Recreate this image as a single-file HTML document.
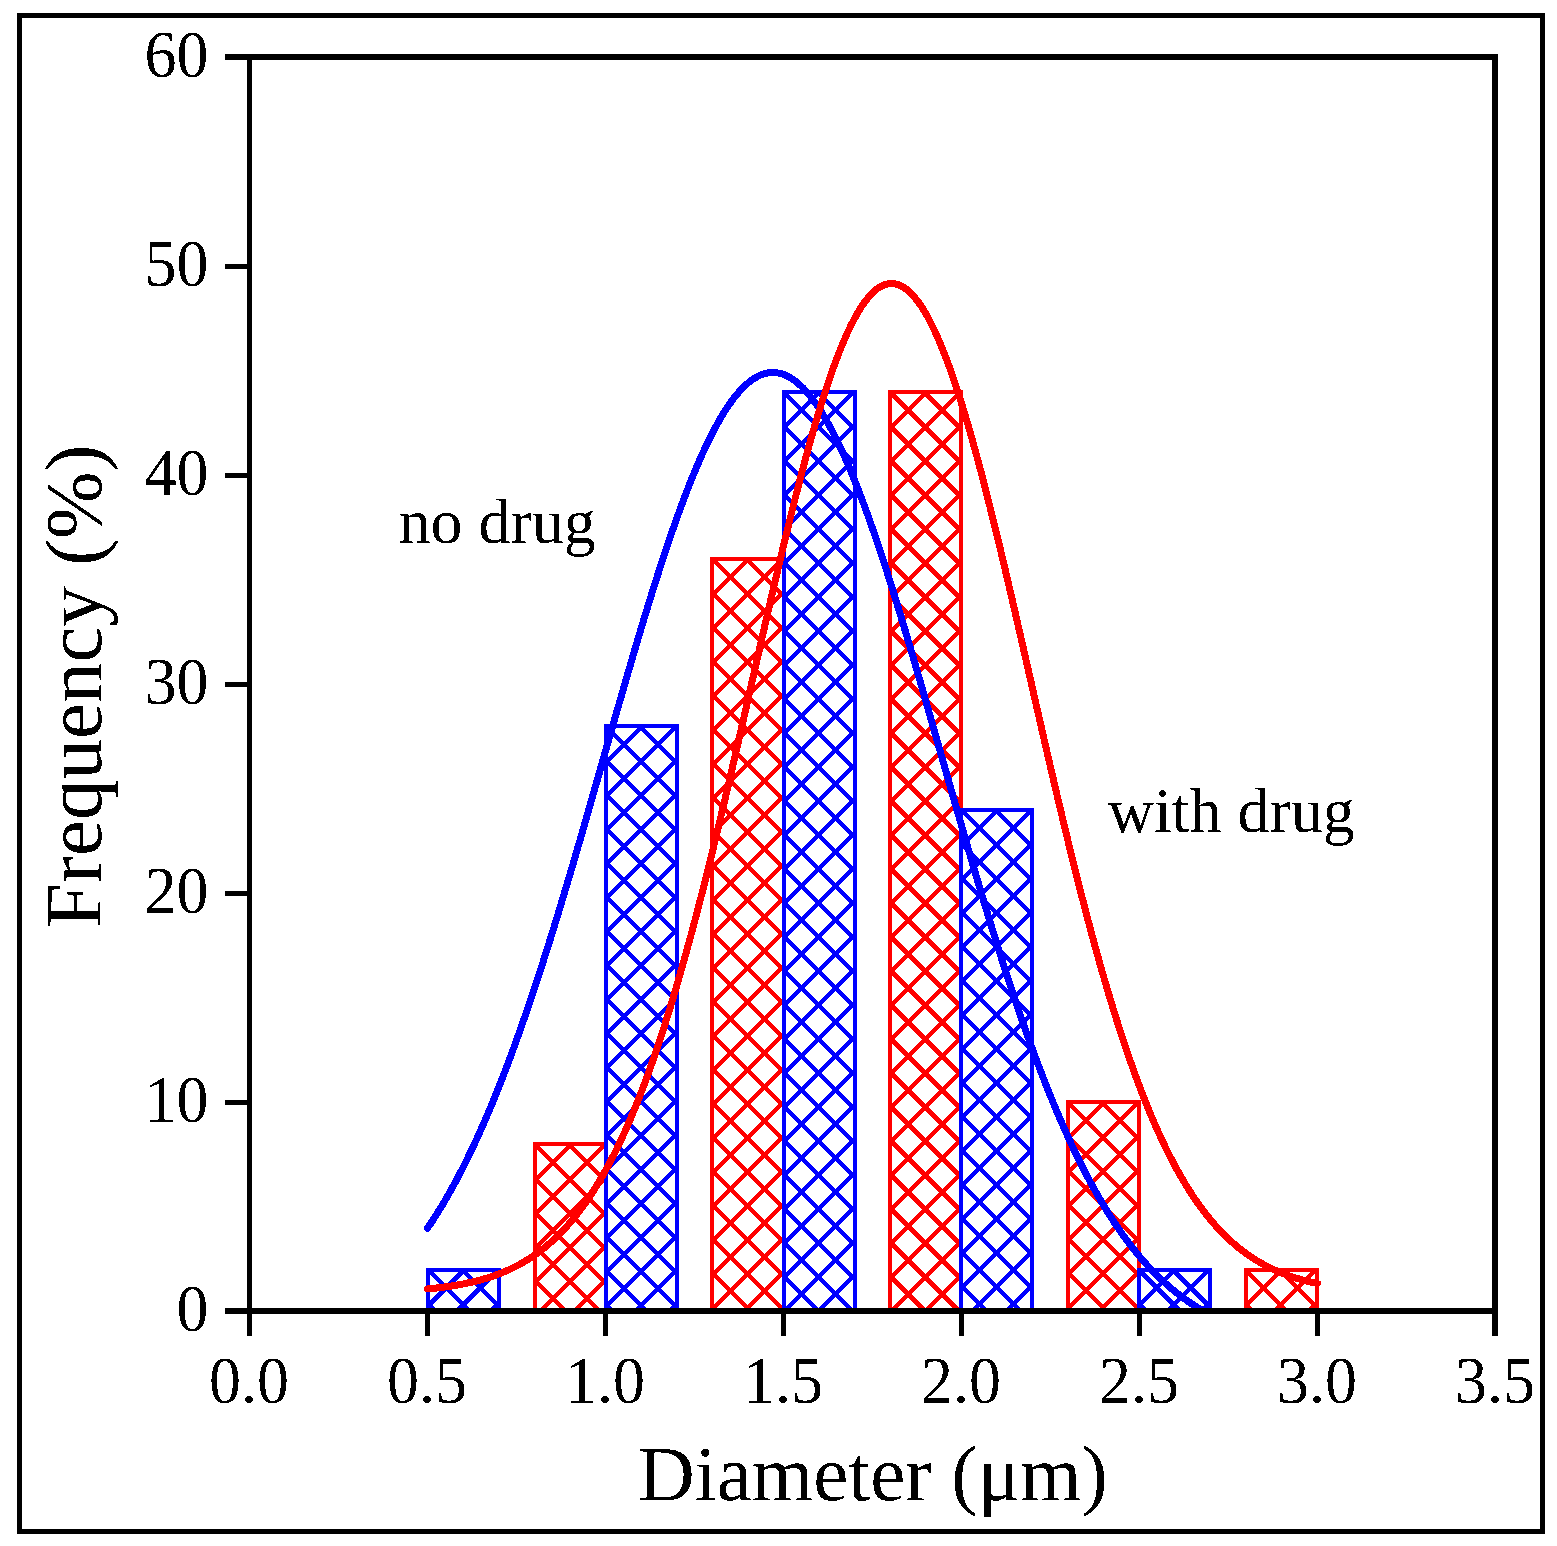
<!DOCTYPE html>
<html><head><meta charset="utf-8"><title>Diameter distribution histogram</title>
<style>html,body{margin:0;padding:0;background:#fff;overflow:hidden;}svg{display:block;}</style></head>
<body>
<svg width="1557" height="1546" viewBox="0 0 1557 1546" shape-rendering="crispEdges">
<defs><filter id="bin" x="0" y="0" width="1557" height="1546" filterUnits="userSpaceOnUse" color-interpolation-filters="sRGB"><feComponentTransfer><feFuncA type="discrete" tableValues="0 1"/></feComponentTransfer></filter><clipPath id="c1"><rect x="533" y="1142" width="75" height="169"/></clipPath><clipPath id="c2"><rect x="710" y="557" width="76" height="754"/></clipPath><clipPath id="c3"><rect x="888" y="390" width="75" height="921"/></clipPath><clipPath id="c4"><rect x="1066" y="1100" width="75" height="211"/></clipPath><clipPath id="c5"><rect x="1244" y="1268" width="75" height="43"/></clipPath><clipPath id="c6"><rect x="426" y="1268" width="75" height="43"/></clipPath><clipPath id="c7"><rect x="604" y="724" width="75" height="587"/></clipPath><clipPath id="c8"><rect x="782" y="390" width="75" height="921"/></clipPath><clipPath id="c9"><rect x="959" y="808" width="75" height="503"/></clipPath><clipPath id="c10"><rect x="1137" y="1268" width="75" height="43"/></clipPath><clipPath id="plot"><rect x="250" y="57" width="1245" height="1254"/></clipPath></defs>
<rect width="1557" height="1546" fill="#fff"/>
<g><rect x="533" y="1142" width="75" height="169" fill="#fff"/><path clip-path="url(#c1)" d="M525.00 1372.69L616.00 1463.69M525.00 1338.69L616.00 1429.69M525.00 1304.69L616.00 1395.69M525.00 1270.69L616.00 1361.69M525.00 1236.69L616.00 1327.69M525.00 1202.69L616.00 1293.69M525.00 1168.69L616.00 1259.69M525.00 1134.69L616.00 1225.69M525.00 1100.69L616.00 1191.69M525.00 1066.69L616.00 1157.69M525.00 1032.69L616.00 1123.69M525.00 998.69L616.00 1089.69M525.00 1088.31L616.00 997.31M525.00 1122.31L616.00 1031.31M525.00 1156.31L616.00 1065.31M525.00 1190.31L616.00 1099.31M525.00 1224.31L616.00 1133.31M525.00 1258.31L616.00 1167.31M525.00 1292.31L616.00 1201.31M525.00 1326.31L616.00 1235.31M525.00 1360.31L616.00 1269.31M525.00 1394.31L616.00 1303.31M525.00 1428.31L616.00 1337.31M525.00 1462.31L616.00 1371.31" stroke="#FF0000" stroke-width="4.4" fill="none"/><rect x="533" y="1142" width="4" height="169" fill="#FF0000"/><rect x="604" y="1142" width="4" height="169" fill="#FF0000"/><rect x="533" y="1142" width="75" height="4" fill="#FF0000"/><rect x="710" y="557" width="76" height="754" fill="#fff"/><path clip-path="url(#c2)" d="M702.00 1364.81L794.00 1456.81M702.00 1330.81L794.00 1422.81M702.00 1296.81L794.00 1388.81M702.00 1262.81L794.00 1354.81M702.00 1228.81L794.00 1320.81M702.00 1194.81L794.00 1286.81M702.00 1160.81L794.00 1252.81M702.00 1126.81L794.00 1218.81M702.00 1092.81L794.00 1184.81M702.00 1058.81L794.00 1150.81M702.00 1024.81L794.00 1116.81M702.00 990.81L794.00 1082.81M702.00 956.81L794.00 1048.81M702.00 922.81L794.00 1014.81M702.00 888.81L794.00 980.81M702.00 854.81L794.00 946.81M702.00 820.81L794.00 912.81M702.00 786.81L794.00 878.81M702.00 752.81L794.00 844.81M702.00 718.81L794.00 810.81M702.00 684.81L794.00 776.81M702.00 650.81L794.00 742.81M702.00 616.81L794.00 708.81M702.00 582.81L794.00 674.81M702.00 548.81L794.00 640.81M702.00 514.81L794.00 606.81M702.00 480.81L794.00 572.81M702.00 446.81L794.00 538.81M702.00 412.81L794.00 504.81M702.00 503.79L794.00 411.79M702.00 537.79L794.00 445.79M702.00 571.79L794.00 479.79M702.00 605.79L794.00 513.79M702.00 639.79L794.00 547.79M702.00 673.79L794.00 581.79M702.00 707.79L794.00 615.79M702.00 741.79L794.00 649.79M702.00 775.79L794.00 683.79M702.00 809.79L794.00 717.79M702.00 843.79L794.00 751.79M702.00 877.79L794.00 785.79M702.00 911.79L794.00 819.79M702.00 945.79L794.00 853.79M702.00 979.79L794.00 887.79M702.00 1013.79L794.00 921.79M702.00 1047.79L794.00 955.79M702.00 1081.79L794.00 989.79M702.00 1115.79L794.00 1023.79M702.00 1149.79L794.00 1057.79M702.00 1183.79L794.00 1091.79M702.00 1217.79L794.00 1125.79M702.00 1251.79L794.00 1159.79M702.00 1285.79L794.00 1193.79M702.00 1319.79L794.00 1227.79M702.00 1353.79L794.00 1261.79M702.00 1387.79L794.00 1295.79M702.00 1421.79L794.00 1329.79M702.00 1455.79L794.00 1363.79" stroke="#FF0000" stroke-width="4.4" fill="none"/><rect x="710" y="557" width="4" height="754" fill="#FF0000"/><rect x="782" y="557" width="4" height="754" fill="#FF0000"/><rect x="710" y="557" width="76" height="4" fill="#FF0000"/><rect x="888" y="390" width="75" height="921" fill="#fff"/><path clip-path="url(#c3)" d="M880.00 1367.92L971.00 1458.92M880.00 1333.92L971.00 1424.92M880.00 1299.92L971.00 1390.92M880.00 1265.92L971.00 1356.92M880.00 1231.92L971.00 1322.92M880.00 1197.92L971.00 1288.92M880.00 1163.92L971.00 1254.92M880.00 1129.92L971.00 1220.92M880.00 1095.92L971.00 1186.92M880.00 1061.92L971.00 1152.92M880.00 1027.92L971.00 1118.92M880.00 993.92L971.00 1084.92M880.00 959.92L971.00 1050.92M880.00 925.92L971.00 1016.92M880.00 891.92L971.00 982.92M880.00 857.92L971.00 948.92M880.00 823.92L971.00 914.92M880.00 789.92L971.00 880.92M880.00 755.92L971.00 846.92M880.00 721.92L971.00 812.92M880.00 687.92L971.00 778.92M880.00 653.92L971.00 744.92M880.00 619.92L971.00 710.92M880.00 585.92L971.00 676.92M880.00 551.92L971.00 642.92M880.00 517.92L971.00 608.92M880.00 483.92L971.00 574.92M880.00 449.92L971.00 540.92M880.00 415.92L971.00 506.92M880.00 381.92L971.00 472.92M880.00 347.92L971.00 438.92M880.00 313.92L971.00 404.92M880.00 279.92L971.00 370.92M880.00 245.92L971.00 336.92M880.00 336.28L971.00 245.28M880.00 370.28L971.00 279.28M880.00 404.28L971.00 313.28M880.00 438.28L971.00 347.28M880.00 472.28L971.00 381.28M880.00 506.28L971.00 415.28M880.00 540.28L971.00 449.28M880.00 574.28L971.00 483.28M880.00 608.28L971.00 517.28M880.00 642.28L971.00 551.28M880.00 676.28L971.00 585.28M880.00 710.28L971.00 619.28M880.00 744.28L971.00 653.28M880.00 778.28L971.00 687.28M880.00 812.28L971.00 721.28M880.00 846.28L971.00 755.28M880.00 880.28L971.00 789.28M880.00 914.28L971.00 823.28M880.00 948.28L971.00 857.28M880.00 982.28L971.00 891.28M880.00 1016.28L971.00 925.28M880.00 1050.28L971.00 959.28M880.00 1084.28L971.00 993.28M880.00 1118.28L971.00 1027.28M880.00 1152.28L971.00 1061.28M880.00 1186.28L971.00 1095.28M880.00 1220.28L971.00 1129.28M880.00 1254.28L971.00 1163.28M880.00 1288.28L971.00 1197.28M880.00 1322.28L971.00 1231.28M880.00 1356.28L971.00 1265.28M880.00 1390.28L971.00 1299.28M880.00 1424.28L971.00 1333.28M880.00 1458.28L971.00 1367.28" stroke="#FF0000" stroke-width="4.4" fill="none"/><rect x="888" y="390" width="4" height="921" fill="#FF0000"/><rect x="959" y="390" width="4" height="921" fill="#FF0000"/><rect x="888" y="390" width="75" height="4" fill="#FF0000"/><rect x="1066" y="1100" width="75" height="211" fill="#fff"/><path clip-path="url(#c4)" d="M1058.00 1364.84L1149.00 1455.84M1058.00 1330.84L1149.00 1421.84M1058.00 1296.84L1149.00 1387.84M1058.00 1262.84L1149.00 1353.84M1058.00 1228.84L1149.00 1319.84M1058.00 1194.84L1149.00 1285.84M1058.00 1160.84L1149.00 1251.84M1058.00 1126.84L1149.00 1217.84M1058.00 1092.84L1149.00 1183.84M1058.00 1058.84L1149.00 1149.84M1058.00 1024.84L1149.00 1115.84M1058.00 990.84L1149.00 1081.84M1058.00 956.84L1149.00 1047.84M1058.00 1046.56L1149.00 955.56M1058.00 1080.56L1149.00 989.56M1058.00 1114.56L1149.00 1023.56M1058.00 1148.56L1149.00 1057.56M1058.00 1182.56L1149.00 1091.56M1058.00 1216.56L1149.00 1125.56M1058.00 1250.56L1149.00 1159.56M1058.00 1284.56L1149.00 1193.56M1058.00 1318.56L1149.00 1227.56M1058.00 1352.56L1149.00 1261.56M1058.00 1386.56L1149.00 1295.56M1058.00 1420.56L1149.00 1329.56M1058.00 1454.56L1149.00 1363.56" stroke="#FF0000" stroke-width="4.4" fill="none"/><rect x="1066" y="1100" width="4" height="211" fill="#FF0000"/><rect x="1137" y="1100" width="4" height="211" fill="#FF0000"/><rect x="1066" y="1100" width="75" height="4" fill="#FF0000"/><rect x="1244" y="1268" width="75" height="43" fill="#fff"/><path clip-path="url(#c5)" d="M1236.00 1362.35L1327.00 1453.35M1236.00 1328.35L1327.00 1419.35M1236.00 1294.35L1327.00 1385.35M1236.00 1260.35L1327.00 1351.35M1236.00 1226.35L1327.00 1317.35M1236.00 1192.35L1327.00 1283.35M1236.00 1158.35L1327.00 1249.35M1236.00 1124.35L1327.00 1215.35M1236.00 1213.45L1327.00 1122.45M1236.00 1247.45L1327.00 1156.45M1236.00 1281.45L1327.00 1190.45M1236.00 1315.45L1327.00 1224.45M1236.00 1349.45L1327.00 1258.45M1236.00 1383.45L1327.00 1292.45M1236.00 1417.45L1327.00 1326.45M1236.00 1451.45L1327.00 1360.45" stroke="#FF0000" stroke-width="4.4" fill="none"/><rect x="1244" y="1268" width="4" height="43" fill="#FF0000"/><rect x="1315" y="1268" width="4" height="43" fill="#FF0000"/><rect x="1244" y="1268" width="75" height="4" fill="#FF0000"/><rect x="426" y="1268" width="75" height="43" fill="#fff"/><path clip-path="url(#c6)" d="M418.00 1361.71L509.00 1452.71M418.00 1327.71L509.00 1418.71M418.00 1293.71L509.00 1384.71M418.00 1259.71L509.00 1350.71M418.00 1225.71L509.00 1316.71M418.00 1191.71L509.00 1282.71M418.00 1157.71L509.00 1248.71M418.00 1123.71L509.00 1214.71M418.00 1214.10L509.00 1123.10M418.00 1248.10L509.00 1157.10M418.00 1282.10L509.00 1191.10M418.00 1316.10L509.00 1225.10M418.00 1350.10L509.00 1259.10M418.00 1384.10L509.00 1293.10M418.00 1418.10L509.00 1327.10M418.00 1452.10L509.00 1361.10" stroke="#0000FF" stroke-width="4.4" fill="none"/><rect x="426" y="1268" width="4" height="43" fill="#0000FF"/><rect x="497" y="1268" width="4" height="43" fill="#0000FF"/><rect x="426" y="1268" width="75" height="4" fill="#0000FF"/><rect x="604" y="724" width="75" height="587" fill="#fff"/><path clip-path="url(#c7)" d="M596.00 1362.62L687.00 1453.62M596.00 1328.62L687.00 1419.62M596.00 1294.62L687.00 1385.62M596.00 1260.62L687.00 1351.62M596.00 1226.62L687.00 1317.62M596.00 1192.62L687.00 1283.62M596.00 1158.62L687.00 1249.62M596.00 1124.62L687.00 1215.62M596.00 1090.62L687.00 1181.62M596.00 1056.62L687.00 1147.62M596.00 1022.62L687.00 1113.62M596.00 988.62L687.00 1079.62M596.00 954.62L687.00 1045.62M596.00 920.62L687.00 1011.62M596.00 886.62L687.00 977.62M596.00 852.62L687.00 943.62M596.00 818.62L687.00 909.62M596.00 784.62L687.00 875.62M596.00 750.62L687.00 841.62M596.00 716.62L687.00 807.62M596.00 682.62L687.00 773.62M596.00 648.62L687.00 739.62M596.00 614.62L687.00 705.62M596.00 580.62L687.00 671.62M596.00 670.38L687.00 579.38M596.00 704.38L687.00 613.38M596.00 738.38L687.00 647.38M596.00 772.38L687.00 681.38M596.00 806.38L687.00 715.38M596.00 840.38L687.00 749.38M596.00 874.38L687.00 783.38M596.00 908.38L687.00 817.38M596.00 942.38L687.00 851.38M596.00 976.38L687.00 885.38M596.00 1010.38L687.00 919.38M596.00 1044.38L687.00 953.38M596.00 1078.38L687.00 987.38M596.00 1112.38L687.00 1021.38M596.00 1146.38L687.00 1055.38M596.00 1180.38L687.00 1089.38M596.00 1214.38L687.00 1123.38M596.00 1248.38L687.00 1157.38M596.00 1282.38L687.00 1191.38M596.00 1316.38L687.00 1225.38M596.00 1350.38L687.00 1259.38M596.00 1384.38L687.00 1293.38M596.00 1418.38L687.00 1327.38M596.00 1452.38L687.00 1361.38" stroke="#0000FF" stroke-width="4.4" fill="none"/><rect x="604" y="724" width="4" height="587" fill="#0000FF"/><rect x="675" y="724" width="4" height="587" fill="#0000FF"/><rect x="604" y="724" width="75" height="4" fill="#0000FF"/><rect x="782" y="390" width="75" height="921" fill="#fff"/><path clip-path="url(#c8)" d="M774.00 1368.54L865.00 1459.54M774.00 1334.54L865.00 1425.54M774.00 1300.54L865.00 1391.54M774.00 1266.54L865.00 1357.54M774.00 1232.54L865.00 1323.54M774.00 1198.54L865.00 1289.54M774.00 1164.54L865.00 1255.54M774.00 1130.54L865.00 1221.54M774.00 1096.54L865.00 1187.54M774.00 1062.54L865.00 1153.54M774.00 1028.54L865.00 1119.54M774.00 994.54L865.00 1085.54M774.00 960.54L865.00 1051.54M774.00 926.54L865.00 1017.54M774.00 892.54L865.00 983.54M774.00 858.54L865.00 949.54M774.00 824.54L865.00 915.54M774.00 790.54L865.00 881.54M774.00 756.54L865.00 847.54M774.00 722.54L865.00 813.54M774.00 688.54L865.00 779.54M774.00 654.54L865.00 745.54M774.00 620.54L865.00 711.54M774.00 586.54L865.00 677.54M774.00 552.54L865.00 643.54M774.00 518.54L865.00 609.54M774.00 484.54L865.00 575.54M774.00 450.54L865.00 541.54M774.00 416.54L865.00 507.54M774.00 382.54L865.00 473.54M774.00 348.54L865.00 439.54M774.00 314.54L865.00 405.54M774.00 280.54L865.00 371.54M774.00 246.54L865.00 337.54M774.00 335.67L865.00 244.67M774.00 369.67L865.00 278.67M774.00 403.67L865.00 312.67M774.00 437.67L865.00 346.67M774.00 471.67L865.00 380.67M774.00 505.67L865.00 414.67M774.00 539.67L865.00 448.67M774.00 573.67L865.00 482.67M774.00 607.67L865.00 516.67M774.00 641.67L865.00 550.67M774.00 675.67L865.00 584.67M774.00 709.67L865.00 618.67M774.00 743.67L865.00 652.67M774.00 777.67L865.00 686.67M774.00 811.67L865.00 720.67M774.00 845.67L865.00 754.67M774.00 879.67L865.00 788.67M774.00 913.67L865.00 822.67M774.00 947.67L865.00 856.67M774.00 981.67L865.00 890.67M774.00 1015.67L865.00 924.67M774.00 1049.67L865.00 958.67M774.00 1083.67L865.00 992.67M774.00 1117.67L865.00 1026.67M774.00 1151.67L865.00 1060.67M774.00 1185.67L865.00 1094.67M774.00 1219.67L865.00 1128.67M774.00 1253.67L865.00 1162.67M774.00 1287.66L865.00 1196.66M774.00 1321.66L865.00 1230.66M774.00 1355.66L865.00 1264.66M774.00 1389.66L865.00 1298.66M774.00 1423.66L865.00 1332.66M774.00 1457.66L865.00 1366.66" stroke="#0000FF" stroke-width="4.4" fill="none"/><rect x="782" y="390" width="4" height="921" fill="#0000FF"/><rect x="853" y="390" width="4" height="921" fill="#0000FF"/><rect x="782" y="390" width="75" height="4" fill="#0000FF"/><rect x="959" y="808" width="75" height="503" fill="#fff"/><path clip-path="url(#c9)" d="M951.00 1377.85L1042.00 1468.85M951.00 1343.85L1042.00 1434.85M951.00 1309.85L1042.00 1400.85M951.00 1275.85L1042.00 1366.85M951.00 1241.85L1042.00 1332.85M951.00 1207.85L1042.00 1298.85M951.00 1173.85L1042.00 1264.85M951.00 1139.85L1042.00 1230.85M951.00 1105.85L1042.00 1196.85M951.00 1071.85L1042.00 1162.85M951.00 1037.85L1042.00 1128.85M951.00 1003.85L1042.00 1094.85M951.00 969.85L1042.00 1060.85M951.00 935.85L1042.00 1026.85M951.00 901.85L1042.00 992.85M951.00 867.85L1042.00 958.85M951.00 833.85L1042.00 924.85M951.00 799.85L1042.00 890.85M951.00 765.85L1042.00 856.85M951.00 731.85L1042.00 822.85M951.00 697.85L1042.00 788.85M951.00 663.85L1042.00 754.85M951.00 754.35L1042.00 663.35M951.00 788.35L1042.00 697.35M951.00 822.35L1042.00 731.35M951.00 856.35L1042.00 765.35M951.00 890.35L1042.00 799.35M951.00 924.35L1042.00 833.35M951.00 958.35L1042.00 867.35M951.00 992.35L1042.00 901.35M951.00 1026.35L1042.00 935.35M951.00 1060.35L1042.00 969.35M951.00 1094.35L1042.00 1003.35M951.00 1128.35L1042.00 1037.35M951.00 1162.35L1042.00 1071.35M951.00 1196.35L1042.00 1105.35M951.00 1230.35L1042.00 1139.35M951.00 1264.35L1042.00 1173.35M951.00 1298.35L1042.00 1207.35M951.00 1332.35L1042.00 1241.35M951.00 1366.35L1042.00 1275.35M951.00 1400.35L1042.00 1309.35M951.00 1434.35L1042.00 1343.35M951.00 1468.35L1042.00 1377.35" stroke="#0000FF" stroke-width="4.4" fill="none"/><rect x="959" y="808" width="4" height="503" fill="#0000FF"/><rect x="1030" y="808" width="4" height="503" fill="#0000FF"/><rect x="959" y="808" width="75" height="4" fill="#0000FF"/><rect x="1137" y="1268" width="75" height="43" fill="#fff"/><path clip-path="url(#c10)" d="M1129.00 1361.97L1220.00 1452.97M1129.00 1327.97L1220.00 1418.97M1129.00 1293.97L1220.00 1384.97M1129.00 1259.97L1220.00 1350.97M1129.00 1225.97L1220.00 1316.97M1129.00 1191.97L1220.00 1282.97M1129.00 1157.97L1220.00 1248.97M1129.00 1123.97L1220.00 1214.97M1129.00 1213.84L1220.00 1122.84M1129.00 1247.84L1220.00 1156.84M1129.00 1281.84L1220.00 1190.84M1129.00 1315.84L1220.00 1224.84M1129.00 1349.84L1220.00 1258.84M1129.00 1383.84L1220.00 1292.84M1129.00 1417.84L1220.00 1326.84M1129.00 1451.84L1220.00 1360.84" stroke="#0000FF" stroke-width="4.4" fill="none"/><rect x="1137" y="1268" width="4" height="43" fill="#0000FF"/><rect x="1208" y="1268" width="4" height="43" fill="#0000FF"/><rect x="1137" y="1268" width="75" height="4" fill="#0000FF"/></g>
<g clip-path="url(#plot)"><polyline points="427.50,1228.20 430.14,1224.29 432.79,1220.28 435.43,1216.18 438.07,1211.98 440.72,1207.68 443.36,1203.29 446.00,1198.79 448.65,1194.19 451.29,1189.50 453.93,1184.69 456.58,1179.79 459.22,1174.78 461.86,1169.67 464.50,1164.45 467.15,1159.13 469.79,1153.70 472.43,1148.16 475.08,1142.52 477.72,1136.77 480.36,1130.92 483.01,1124.96 485.65,1118.89 488.29,1112.71 490.94,1106.43 493.58,1100.05 496.22,1093.55 498.87,1086.96 501.51,1080.25 504.15,1073.45 506.80,1066.54 509.44,1059.53 512.08,1052.41 514.73,1045.20 517.37,1037.88 520.01,1030.47 522.66,1022.96 525.30,1015.36 527.94,1007.66 530.59,999.87 533.23,991.99 535.87,984.02 538.51,975.97 541.16,967.83 543.80,959.61 546.44,951.31 549.09,942.93 551.73,934.47 554.37,925.94 557.02,917.35 559.66,908.68 562.30,899.96 564.95,891.17 567.59,882.32 570.23,873.42 572.88,864.47 575.52,855.47 578.16,846.43 580.81,837.34 583.45,828.22 586.09,819.07 588.74,809.89 591.38,800.68 594.02,791.45 596.67,782.21 599.31,772.95 601.95,763.69 604.60,754.42 607.24,745.15 609.88,735.89 612.52,726.64 615.17,717.41 617.81,708.19 620.45,699.00 623.10,689.84 625.74,680.71 628.38,671.62 631.03,662.58 633.67,653.59 636.31,644.65 638.96,635.77 641.60,626.96 644.24,618.21 646.89,609.54 649.53,600.96 652.17,592.45 654.82,584.04 657.46,575.73 660.10,567.51 662.75,559.40 665.39,551.40 668.03,543.52 670.68,535.76 673.32,528.13 675.96,520.63 678.61,513.26 681.25,506.03 683.89,498.95 686.53,492.02 689.18,485.25 691.82,478.63 694.46,472.18 697.11,465.90 699.75,459.79 702.39,453.86 705.04,448.11 707.68,442.54 710.32,437.16 712.97,431.98 715.61,426.99 718.25,422.20 720.90,417.62 723.54,413.24 726.18,409.07 728.83,405.11 731.47,401.37 734.11,397.85 736.76,394.54 739.40,391.46 742.04,388.61 744.69,385.98 747.33,383.59 749.97,381.42 752.61,379.49 755.26,377.79 757.90,376.32 760.54,375.09 763.19,374.10 765.83,373.35 768.47,372.83 771.12,372.56 773.76,372.52 776.40,372.72 779.05,373.16 781.69,373.84 784.33,374.76 786.98,375.92 789.62,377.31 792.26,378.94 794.91,380.80 797.55,382.90 800.19,385.22 802.84,387.78 805.48,390.56 808.12,393.57 810.77,396.81 813.41,400.26 816.05,403.94 818.70,407.83 821.34,411.93 823.98,416.25 826.62,420.77 829.27,425.50 831.91,430.42 834.55,435.55 837.20,440.87 839.84,446.38 842.48,452.07 845.13,457.95 847.77,464.01 850.41,470.24 853.06,476.63 855.70,483.20 858.34,489.93 860.99,496.81 863.63,503.84 866.27,511.02 868.92,518.35 871.56,525.81 874.20,533.40 876.85,541.13 879.49,548.97 882.13,556.93 884.78,565.01 887.42,573.19 890.06,581.48 892.71,589.86 895.35,598.33 897.99,606.90 900.63,615.54 903.28,624.26 905.92,633.06 908.56,641.91 911.21,650.84 913.85,659.81 916.49,668.84 919.14,677.91 921.78,687.03 924.42,696.18 927.07,705.36 929.71,714.57 932.35,723.80 935.00,733.05 937.64,742.31 940.28,751.57 942.93,760.84 945.57,770.11 948.21,779.36 950.86,788.61 953.50,797.85 956.14,807.06 958.79,816.25 961.43,825.41 964.07,834.54 966.71,843.64 969.36,852.70 972.00,861.71 974.64,870.68 977.29,879.59 979.93,888.46 982.57,897.26 985.22,906.01 987.86,914.69 990.50,923.31 993.15,931.86 995.79,940.34 998.43,948.74 1001.08,957.07 1003.72,965.31 1006.36,973.48 1009.01,981.56 1011.65,989.55 1014.29,997.46 1016.94,1005.28 1019.58,1013.00 1022.22,1020.64 1024.87,1028.18 1027.51,1035.62 1030.15,1042.96 1032.80,1050.21 1035.44,1057.35 1038.08,1064.39 1040.72,1071.34 1043.37,1078.17 1046.01,1084.91 1048.65,1091.54 1051.30,1098.06 1053.94,1104.48 1056.58,1110.80 1059.23,1117.00 1061.87,1123.10 1064.51,1129.10 1067.16,1134.99 1069.80,1140.77 1072.44,1146.44 1075.09,1152.01 1077.73,1157.47 1080.37,1162.83 1083.02,1168.08 1085.66,1173.22 1088.30,1178.26 1090.95,1183.20 1093.59,1188.03 1096.23,1192.76 1098.88,1197.39 1101.52,1201.92 1104.16,1206.34 1106.81,1210.67 1109.45,1214.90 1112.09,1219.03 1114.73,1223.07 1117.38,1227.01 1120.02,1230.85 1122.66,1234.60 1125.31,1238.26 1127.95,1241.83 1130.59,1245.31 1133.24,1248.70 1135.88,1252.01 1138.52,1255.22 1141.17,1258.36 1143.81,1261.40 1146.45,1264.37 1149.10,1267.26 1151.74,1270.07 1154.38,1272.80 1157.03,1275.45 1159.67,1278.03 1162.31,1280.53 1164.96,1282.97 1167.60,1285.33 1170.24,1287.62 1172.89,1289.84 1175.53,1292.00 1178.17,1294.09 1180.82,1296.12 1183.46,1298.08 1186.10,1299.99 1188.74,1301.83 1191.39,1303.62 1194.03,1305.35 1196.67,1307.02 1199.32,1308.64 1201.96,1310.20 1204.60,1311.72 1207.25,1313.18 1209.89,1314.60 1212.53,1315.96 1215.18,1317.28 1217.82,1318.56" fill="none" stroke="#0000FF" stroke-width="7.0" stroke-linecap="round" stroke-linejoin="round"/></g><polyline points="427.50,1288.96 430.48,1288.67 433.45,1288.37 436.43,1288.04 439.41,1287.69 442.38,1287.32 445.36,1286.92 448.34,1286.50 451.31,1286.06 454.29,1285.58 457.27,1285.08 460.24,1284.54 463.22,1283.98 466.20,1283.37 469.17,1282.73 472.15,1282.06 475.13,1281.34 478.10,1280.58 481.08,1279.78 484.06,1278.93 487.03,1278.04 490.01,1277.09 492.98,1276.09 495.96,1275.03 498.94,1273.92 501.91,1272.75 504.89,1271.51 507.87,1270.21 510.84,1268.84 513.82,1267.40 516.80,1265.89 519.77,1264.30 522.75,1262.62 525.73,1260.87 528.70,1259.03 531.68,1257.10 534.66,1255.07 537.63,1252.95 540.61,1250.74 543.59,1248.41 546.56,1245.98 549.54,1243.44 552.52,1240.79 555.49,1238.02 558.47,1235.13 561.45,1232.11 564.42,1228.97 567.40,1225.69 570.38,1222.28 573.35,1218.73 576.33,1215.03 579.31,1211.19 582.28,1207.20 585.26,1203.06 588.24,1198.75 591.21,1194.29 594.19,1189.66 597.17,1184.86 600.14,1179.89 603.12,1174.75 606.10,1169.43 609.07,1163.93 612.05,1158.24 615.03,1152.37 618.00,1146.31 620.98,1140.06 623.95,1133.61 626.93,1126.97 629.91,1120.13 632.88,1113.09 635.86,1105.85 638.84,1098.41 641.81,1090.76 644.79,1082.91 647.77,1074.85 650.74,1066.59 653.72,1058.12 656.70,1049.44 659.67,1040.56 662.65,1031.48 665.63,1022.19 668.60,1012.70 671.58,1003.01 674.56,993.12 677.53,983.04 680.51,972.76 683.49,962.29 686.46,951.64 689.44,940.80 692.42,929.79 695.39,918.60 698.37,907.25 701.35,895.73 704.32,884.06 707.30,872.23 710.28,860.26 713.25,848.15 716.23,835.91 719.21,823.55 722.18,811.08 725.16,798.50 728.14,785.82 731.11,773.06 734.09,760.22 737.07,747.31 740.04,734.35 743.02,721.33 745.99,708.28 748.97,695.21 751.95,682.12 754.92,669.04 757.90,655.96 760.88,642.90 763.85,629.88 766.83,616.91 769.81,604.01 772.78,591.17 775.76,578.42 778.74,565.78 781.71,553.24 784.69,540.84 787.67,528.58 790.64,516.47 793.62,504.53 796.60,492.77 799.57,481.21 802.55,469.86 805.53,458.73 808.50,447.84 811.48,437.19 814.46,426.81 817.43,416.70 820.41,406.88 823.39,397.36 826.36,388.15 829.34,379.26 832.32,370.71 835.29,362.50 838.27,354.65 841.25,347.16 844.22,340.05 847.20,333.33 850.18,327.00 853.15,321.07 856.13,315.56 859.11,310.46 862.08,305.78 865.06,301.54 868.04,297.73 871.01,294.37 873.99,291.45 876.96,288.98 879.94,286.97 882.92,285.41 885.89,284.31 888.87,283.67 891.85,283.50 894.82,283.78 897.80,284.52 900.78,285.73 903.75,287.39 906.73,289.51 909.71,292.08 912.68,295.11 915.66,298.57 918.64,302.48 921.61,306.83 924.59,311.60 927.57,316.80 930.54,322.41 933.52,328.43 936.50,334.85 939.47,341.67 942.45,348.86 945.43,356.44 948.40,364.37 951.38,372.66 954.36,381.29 957.33,390.25 960.31,399.54 963.29,409.13 966.26,419.02 969.24,429.19 972.22,439.63 975.19,450.34 978.17,461.29 981.15,472.47 984.12,483.87 987.10,495.48 990.08,507.28 993.05,519.26 996.03,531.40 999.01,543.70 1001.98,556.14 1004.96,568.70 1007.93,581.37 1010.91,594.14 1013.89,606.99 1016.86,619.91 1019.84,632.90 1022.82,645.92 1025.79,658.98 1028.77,672.07 1031.75,685.15 1034.72,698.24 1037.70,711.31 1040.68,724.35 1043.65,737.35 1046.63,750.31 1049.61,763.20 1052.58,776.02 1055.56,788.77 1058.54,801.42 1061.51,813.98 1064.49,826.43 1067.47,838.76 1070.44,850.97 1073.42,863.04 1076.40,874.98 1079.37,886.77 1082.35,898.41 1085.33,909.89 1088.30,921.21 1091.28,932.36 1094.26,943.33 1097.23,954.12 1100.21,964.73 1103.19,975.16 1106.16,985.39 1109.14,995.43 1112.12,1005.27 1115.09,1014.91 1118.07,1024.36 1121.05,1033.60 1124.02,1042.64 1127.00,1051.47 1129.97,1060.10 1132.95,1068.52 1135.93,1076.73 1138.90,1084.75 1141.88,1092.55 1144.86,1100.15 1147.83,1107.55 1150.81,1114.74 1153.79,1121.73 1156.76,1128.53 1159.74,1135.12 1162.72,1141.53 1165.69,1147.73 1168.67,1153.75 1171.65,1159.58 1174.62,1165.22 1177.60,1170.68 1180.58,1175.96 1183.55,1181.06 1186.53,1185.99 1189.51,1190.75 1192.48,1195.34 1195.46,1199.76 1198.44,1204.03 1201.41,1208.14 1204.39,1212.10 1207.37,1215.90 1210.34,1219.56 1213.32,1223.08 1216.30,1226.46 1219.27,1229.71 1222.25,1232.82 1225.23,1235.81 1228.20,1238.67 1231.18,1241.42 1234.16,1244.04 1237.13,1246.56 1240.11,1248.96 1243.09,1251.26 1246.06,1253.45 1249.04,1255.55 1252.02,1257.55 1254.99,1259.46 1257.97,1261.28 1260.94,1263.02 1263.92,1264.67 1266.90,1266.25 1269.87,1267.74 1272.85,1269.17 1275.83,1270.52 1278.80,1271.81 1281.78,1273.03 1284.76,1274.19 1287.73,1275.28 1290.71,1276.33 1293.69,1277.31 1296.66,1278.25 1299.64,1279.13 1302.62,1279.97 1305.59,1280.76 1308.57,1281.51 1311.55,1282.22 1314.52,1282.89 1317.50,1283.52" fill="none" stroke="#FF0000" stroke-width="7.0" stroke-linecap="round" stroke-linejoin="round"/>
<g><rect x="17" y="13" width="1528" height="5" fill="#000"/><rect x="17" y="1529" width="1528" height="5" fill="#000"/><rect x="17" y="13" width="5" height="1521" fill="#000"/><rect x="1540" y="13" width="5" height="1521" fill="#000"/><rect x="225" y="54" width="1273" height="6" fill="#000"/><rect x="225" y="1308" width="1273" height="6" fill="#000"/><rect x="247" y="54" width="5" height="1282" fill="#000"/><rect x="1492" y="54" width="6" height="1282" fill="#000"/><rect x="225" y="1100" width="22" height="5" fill="#000"/><rect x="225" y="891" width="22" height="5" fill="#000"/><rect x="225" y="682" width="22" height="5" fill="#000"/><rect x="225" y="473" width="22" height="5" fill="#000"/><rect x="225" y="264" width="22" height="5" fill="#000"/><rect x="425" y="1314" width="5" height="22" fill="#000"/><rect x="603" y="1314" width="5" height="22" fill="#000"/><rect x="781" y="1314" width="5" height="22" fill="#000"/><rect x="959" y="1314" width="5" height="22" fill="#000"/><rect x="1137" y="1314" width="5" height="22" fill="#000"/><rect x="1315" y="1314" width="5" height="22" fill="#000"/></g>
<g shape-rendering="auto" filter="url(#bin)"><text transform="translate(208.5 1331.30) scale(0.935 1)" text-anchor="end" font-size="68.5" font-family="Liberation Serif, 'Times New Roman', serif">0</text><text transform="translate(208.5 1122.30) scale(0.935 1)" text-anchor="end" font-size="68.5" font-family="Liberation Serif, 'Times New Roman', serif">10</text><text transform="translate(208.5 913.30) scale(0.935 1)" text-anchor="end" font-size="68.5" font-family="Liberation Serif, 'Times New Roman', serif">20</text><text transform="translate(208.5 704.30) scale(0.935 1)" text-anchor="end" font-size="68.5" font-family="Liberation Serif, 'Times New Roman', serif">30</text><text transform="translate(208.5 495.30) scale(0.935 1)" text-anchor="end" font-size="68.5" font-family="Liberation Serif, 'Times New Roman', serif">40</text><text transform="translate(208.5 286.30) scale(0.935 1)" text-anchor="end" font-size="68.5" font-family="Liberation Serif, 'Times New Roman', serif">50</text><text transform="translate(208.5 77.30) scale(0.935 1)" text-anchor="end" font-size="68.5" font-family="Liberation Serif, 'Times New Roman', serif">60</text><text transform="translate(249.00 1402.5) scale(0.935 1)" text-anchor="middle" font-size="68.5" font-family="Liberation Serif, 'Times New Roman', serif">0.0</text><text transform="translate(427.00 1402.5) scale(0.935 1)" text-anchor="middle" font-size="68.5" font-family="Liberation Serif, 'Times New Roman', serif">0.5</text><text transform="translate(605.00 1402.5) scale(0.935 1)" text-anchor="middle" font-size="68.5" font-family="Liberation Serif, 'Times New Roman', serif">1.0</text><text transform="translate(783.00 1402.5) scale(0.935 1)" text-anchor="middle" font-size="68.5" font-family="Liberation Serif, 'Times New Roman', serif">1.5</text><text transform="translate(961.00 1402.5) scale(0.935 1)" text-anchor="middle" font-size="68.5" font-family="Liberation Serif, 'Times New Roman', serif">2.0</text><text transform="translate(1139.00 1402.5) scale(0.935 1)" text-anchor="middle" font-size="68.5" font-family="Liberation Serif, 'Times New Roman', serif">2.5</text><text transform="translate(1317.00 1402.5) scale(0.935 1)" text-anchor="middle" font-size="68.5" font-family="Liberation Serif, 'Times New Roman', serif">3.0</text><text transform="translate(1495.00 1402.5) scale(0.935 1)" text-anchor="middle" font-size="68.5" font-family="Liberation Serif, 'Times New Roman', serif">3.5</text><text x="637.7" y="1499.6" font-size="79" font-family="Liberation Serif, 'Times New Roman', serif">Diameter (μm)</text><text transform="translate(101 928) rotate(-90)" font-size="81" font-family="Liberation Serif, 'Times New Roman', serif">Frequency (%)</text><text x="398.5" y="542.7" font-size="64" font-family="Liberation Serif, 'Times New Roman', serif">no drug</text><text x="1107.7" y="831.7" font-size="64" font-family="Liberation Serif, 'Times New Roman', serif">with drug</text></g>
</svg>
</body></html>
